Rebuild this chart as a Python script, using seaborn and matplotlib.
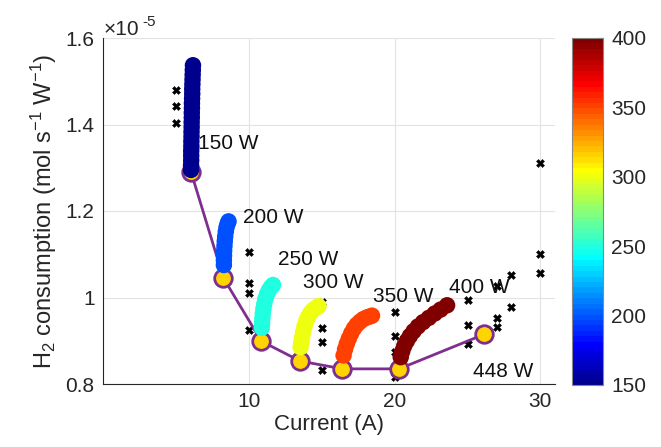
import numpy as np
import pandas as pd
import seaborn as sns
import matplotlib
matplotlib.use("Agg")
import matplotlib.pyplot as plt
from matplotlib import colors, cm

# ---------------- data (H2 consumption in units of 1e-5 mol s^-1 W^-1) ----------------
cur_150 = [6.04, 6.04, 6.05, 6.05, 6.05, 6.06, 6.06, 6.07, 6.07, 6.08, 6.08, 6.09,
           6.09, 6.10, 6.10, 6.11, 6.12, 6.12, 6.13, 6.14, 6.15, 6.16, 6.17]
h2_150 = [1.295, 1.306, 1.317, 1.328, 1.339, 1.350, 1.361, 1.372, 1.383, 1.394, 1.405, 1.416,
          1.427, 1.438, 1.449, 1.460, 1.471, 1.482, 1.493, 1.504, 1.515, 1.526, 1.537]
cur_200 = [8.29, 8.29, 8.30, 8.31, 8.33, 8.35, 8.38, 8.42, 8.47, 8.54, 8.61]
h2_200 = [1.075, 1.086, 1.097, 1.108, 1.119, 1.130, 1.141, 1.152, 1.162, 1.170, 1.176]
cur_250 = [10.89, 10.91, 10.93, 10.96, 11.00, 11.06, 11.14, 11.25, 11.38, 11.52, 11.66]
h2_250 = [0.930, 0.941, 0.952, 0.963, 0.974, 0.985, 0.997, 1.008, 1.017, 1.024, 1.029]
cur_300 = [13.55, 13.60, 13.66, 13.73, 13.82, 13.93, 14.06, 14.22, 14.40, 14.60, 14.78]
h2_300 = [0.885, 0.897, 0.909, 0.921, 0.933, 0.945, 0.955, 0.964, 0.971, 0.976, 0.980]
cur_350 = [16.50, 16.60, 16.72, 16.86, 17.02, 17.20, 17.40, 17.62, 17.85, 18.10, 18.30, 18.45]
h2_350 = [0.866, 0.880, 0.893, 0.905, 0.917, 0.928, 0.937, 0.944, 0.950, 0.954, 0.956, 0.958]
cur_400 = [20.42, 20.52, 20.66, 20.85, 21.05, 21.30, 21.60, 21.95, 22.35, 22.75, 23.15, 23.60]
h2_400 = [0.862, 0.875, 0.888, 0.900, 0.911, 0.922, 0.933, 0.943, 0.953, 0.963, 0.972, 0.982]

trail_powers = [150, 200, 250, 300, 350, 400]

opt_labels = ["150 W", "200 W", "250 W", "300 W", "350 W", "400 W", "448 W"]
opt_current = [6.04, 8.26, 10.86, 13.52, 16.42, 20.31, 26.15]
opt_h2 = [1.290, 1.045, 0.899, 0.853, 0.835, 0.835, 0.915]
label_x = [6.52, 9.59, 11.98, 13.69, 18.53, 23.72, 25.36]
label_y = [1.357, 1.184, 1.087, 1.034, 1.003, 1.022, 0.828]

ref_current = [5, 5, 5, 10, 10, 10, 10, 15, 15, 15, 15, 20, 20, 20, 20,
               25, 25, 25, 27, 27, 27, 28, 28, 30, 30, 30]
ref_h2 = [1.480, 1.443, 1.403, 1.105, 1.033, 1.010, 0.925, 0.990, 0.930, 0.897, 0.833,
          0.966, 0.911, 0.874, 0.816, 0.994, 0.936, 0.892, 1.026, 0.953, 0.932,
          1.052, 0.978, 1.311, 1.100, 1.057]

# ---------------- MATLAB-style jet(64) colormap ----------------
def matlab_jet(m=64):
    n = int(np.ceil(m / 4))
    u = np.concatenate([np.arange(1, n + 1) / n, np.ones(n - 1), np.arange(n, 0, -1) / n])
    g = int(np.ceil(n / 2)) - (1 if m % 4 == 1 else 0) + np.arange(1, len(u) + 1)
    r = g + n
    b = g - n
    J = np.zeros((m, 3))
    J[r[r <= m] - 1, 0] = u[r <= m]
    J[g[g <= m] - 1, 1] = u[g <= m]
    J[b[b >= 1] - 1, 2] = u[b >= 1]
    return colors.ListedColormap(J, name="mjet")

jet = matlab_jet(64)

# ---------------- build table ----------------
curs = [cur_150, cur_200, cur_250, cur_300, cur_350, cur_400]
h2s = [h2_150, h2_200, h2_250, h2_300, h2_350, h2_400]
trail = pd.concat([pd.DataFrame({"current": c, "h2": h, "power": p})
                   for c, h, p in zip(curs, h2s, trail_powers)], ignore_index=True)
ref = pd.DataFrame({"current": ref_current, "h2": ref_h2})
opt = pd.DataFrame({"current": opt_current, "h2": opt_h2})

sns.set_theme(style="white")
plt.rcParams["font.family"] = ["Liberation Sans", "DejaVu Sans"]
plt.rcParams["mathtext.fontset"] = "custom"
plt.rcParams["mathtext.rm"] = "Liberation Sans"
plt.rcParams["mathtext.it"] = "Liberation Sans:italic"

fig = plt.figure(figsize=(6.61, 4.47), dpi=100)
ax = fig.add_axes([103 / 661, 1 - 384 / 447, (555 - 103) / 661, (384 - 38) / 447])

txt = "#262626"
ax.grid(True, color="#E3E3E3", lw=0.8)
ax.set_axisbelow(True)

# reference points (black x)
sns.scatterplot(data=ref, x="current", y="h2", marker="X", color="black", s=34,
                linewidth=0.3, edgecolor="black", ax=ax, zorder=2, legend=False)

# optimum line and points
ax.plot(opt["current"], opt["h2"], color="#7E2F8E", lw=2, zorder=3)
sns.scatterplot(data=opt, x="current", y="h2", color="#FFD400", edgecolor="#7E2F8E",
                linewidth=2, s=160, ax=ax, zorder=4, legend=False)

# trails coloured by power
norm = colors.Normalize(150, 400)
sns.scatterplot(data=trail, x="current", y="h2", hue="power", palette=jet,
                hue_norm=norm, s=140, linewidth=0, ax=ax, zorder=5, legend=False)

for lab, lx, ly in zip(opt_labels, label_x, label_y):
    ax.text(lx, ly, lab, fontsize=15, color="#111111", ha="left", va="center", zorder=6)

ax.set_xlim(0, 31)
ax.set_ylim(0.8, 1.6)
ax.set_xticks([10, 20, 30])
ax.set_yticks([0.8, 1.0, 1.2, 1.4, 1.6])
ax.set_yticklabels(["0.8", "1", "1.2", "1.4", "1.6"])
ax.tick_params(direction="in", length=4, width=0.8, colors=txt, labelsize=15,
               labelcolor=txt, pad=6)
for s in ["top", "right"]:
    ax.spines[s].set_visible(False)
for s in ["left", "bottom"]:
    ax.spines[s].set_color(txt)
    ax.spines[s].set_linewidth(0.8)

ax.set_xlabel("Current (A)", fontsize=16, color=txt, labelpad=2)
ax.set_ylabel("H$_2$ consumption (mol s$^{-1}$ W$^{-1}$)", fontsize=17, color=txt, labelpad=5)

# exponent label (x10^-5)
fig.text(104 / 661, 1 - 35 / 447, "×10", fontsize=15, color=txt, ha="left", va="baseline")
fig.text(142 / 661, 1 - 26 / 447, "-5", fontsize=11, color=txt, ha="left", va="baseline")

# colorbar
cax = fig.add_axes([572 / 661, 1 - 385 / 447, 31 / 661, (385 - 38) / 447])
sm = cm.ScalarMappable(norm=norm, cmap=jet)
cb = fig.colorbar(sm, cax=cax)
cb.set_ticks([150, 200, 250, 300, 350, 400])
cb.outline.set_edgecolor("#888888")
cb.outline.set_linewidth(0.8)
cax.tick_params(direction="in", length=4, width=0.8, colors=txt, labelsize=15, pad=6)

fig.savefig("out.png", dpi=100)
